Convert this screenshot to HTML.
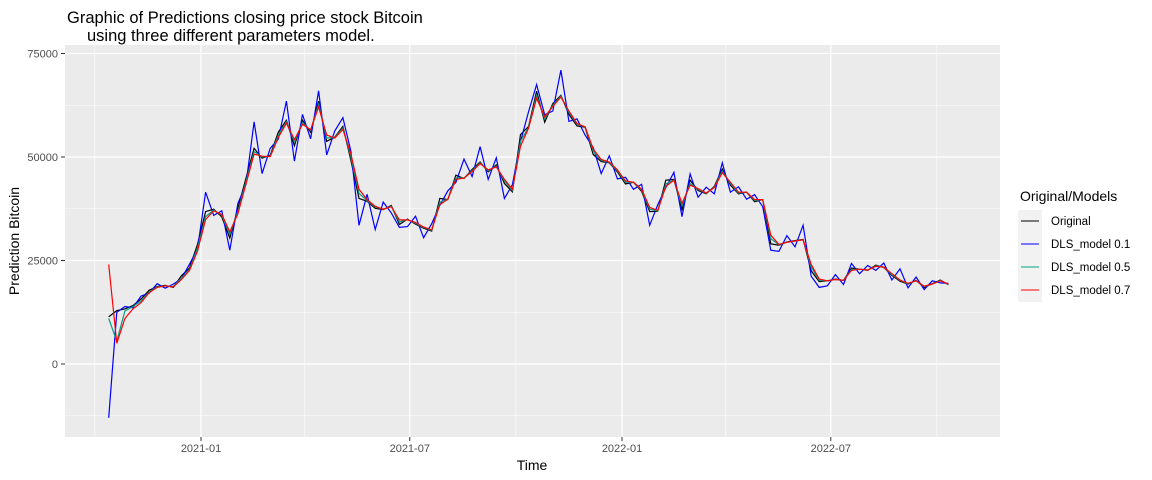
<!DOCTYPE html>
<html><head><meta charset="utf-8"><style>
body{margin:0;background:#fff;font-family:"Liberation Sans",Arial,sans-serif}
svg{display:block}
</style></head><body>
<svg id="chart" width="1152" height="480">
<text x="67" y="23" font-size="16.5" fill="#000">Graphic of Predictions closing price stock Bitcoin</text>
<text x="87" y="41" font-size="16.5" fill="#000">using three different parameters model.</text>
<rect x="65" y="45" width="935" height="392" fill="#ebebeb"/>
<g id="grid"></g>
<g id="series"></g>
<g id="axes"></g>
<text x="532" y="470" font-size="14" text-anchor="middle">Time</text>
<text transform="translate(19,241) rotate(-90)" font-size="14" text-anchor="middle">Prediction Bitcoin</text>
<g>
<text x="1020" y="201" font-size="14">Original/Models</text>
<rect x="1018" y="210" width="24" height="92" fill="#f2f2f2"/>
<line x1="1021" x2="1039" y1="221" y2="221" stroke="#000"/>
<line x1="1021" x2="1039" y1="244" y2="244" stroke="#0000ff"/>
<line x1="1021" x2="1039" y1="267" y2="267" stroke="#00a087"/>
<line x1="1021" x2="1039" y1="290" y2="290" stroke="#ff0000"/>
<text x="1051" y="225" font-size="11.5" fill="#000">Original</text>
<text x="1051" y="248" font-size="11.5" fill="#000">DLS_model 0.1</text>
<text x="1051" y="271" font-size="11.5" fill="#000">DLS_model 0.5</text>
<text x="1051" y="294" font-size="11.5" fill="#000">DLS_model 0.7</text>
</g>
</svg>
<script>
// days relative to 2021-01-01, weekly from 2020-10-13
const startDay = -80;
const stepDays = 7;
const original = [11400,12900,13300,14100,15700,17800,18700,19000,18500,21300,23200,28900,36800,37400,35500,30400,37600,44900,52100,49700,50400,56000,58900,52700,58900,56000,63500,53800,54800,57400,49200,40000,39300,37600,37300,38300,33700,35000,33800,32800,32100,40000,39700,45600,44800,47000,48800,46400,48100,43600,41600,55400,57400,65900,58400,62900,64900,60300,57500,57200,50600,48900,48600,46400,43500,43900,41700,36800,36900,44400,44600,37300,44400,41900,41100,42900,47100,43200,41100,41500,39200,39700,29000,28700,29500,29800,30100,22500,19900,20100,20500,20200,23200,22900,22600,23900,23300,21400,20000,19300,20200,18500,19400,20300,19150];
const dls01 = [-13000,12500,13900,13600,16400,17100,19400,18300,19300,20600,24100,27800,41500,35900,37000,27500,38800,43400,58500,46000,52100,54300,63500,49000,60300,54400,66000,50500,56300,59500,51400,33500,41000,32500,39100,36500,33000,33200,35700,30500,33900,38300,41800,43900,49500,45300,52500,44600,49800,40000,43300,53700,61000,67500,60200,61100,71000,58600,59200,55300,52300,46000,50300,44700,45100,42200,43400,33500,38500,42600,46300,35600,45900,40300,42700,41100,48600,41500,42800,39800,40900,38000,27500,27200,31000,28300,33500,21200,18500,18900,21600,19200,24300,21800,23800,22600,24400,20300,23000,18400,21000,18000,20100,19600,19500];
const dls05 = [11000,5500,12800,13900,15200,17400,18600,18900,18700,20700,22800,28000,35600,37200,35900,31300,36800,44100,51300,50000,50200,55300,58500,53600,58300,56400,62700,54600,54700,57000,50000,41200,39500,37900,37400,38100,34300,34900,34000,33000,32300,39100,39800,45000,44900,46700,48600,46700,47800,44200,41900,53800,57200,64900,59200,62500,64700,60800,57900,57300,51400,49200,48700,46700,43900,43900,42000,37400,37000,43500,44500,38200,43600,42200,41200,42700,46600,43600,41300,41500,39500,39700,30300,28800,29400,29700,30000,23400,20200,20100,20400,20200,22800,22900,22700,23700,23400,21600,20200,19400,20100,18700,19300,20200,19200];
const dls07 = [24000,5000,11000,13300,14800,17200,18500,18900,18600,20400,22600,27300,34900,37000,36100,31900,36300,43500,50700,50200,50100,54700,58200,54200,57900,56600,62100,55300,54600,56700,50700,42200,39700,38100,37400,38000,34800,34800,34200,33100,32400,38500,39800,44600,44900,46500,48400,46900,47600,44600,42200,52600,57000,64200,59700,62200,64500,61100,58100,57300,51900,49400,48800,46900,44200,43900,42200,37800,37100,42900,44400,38800,43200,42400,41300,42600,46200,43900,41500,41500,39700,39700,31100,28900,29400,29700,30000,24000,20500,20100,20400,20200,22600,22900,22700,23600,23400,21800,20300,19500,20100,18800,19300,20100,19300];
const yTickValues = [0,25000,50000,75000];
const yTickLabels = ["0","25000","50000","75000"];
const yMinorValues = [-12500,12500,37500,62500];
const xTickDays = [0,181,365,546];
const xTickLabels = ["2021-01","2021-07","2022-01","2022-07"];
const xMinorDays = [-92,90,273,455,638];

const NS = "http://www.w3.org/2000/svg";
const xs = d => 201 + d * (421/365);
const ys = v => 364 - v * (103.5/25000);
function mk(tag, attrs, parent){const e=document.createElementNS(NS,tag);for(const k in attrs)e.setAttribute(k,attrs[k]);parent.appendChild(e);return e;}
const grid=document.getElementById('grid'), ser=document.getElementById('series'), axes=document.getElementById('axes');
yMinorValues.forEach(v=>{const l=mk('line',{x1:65,x2:1000,y1:ys(v),y2:ys(v),stroke:'#fff','stroke-width':0.6},grid);

});
xMinorDays.forEach(d=>{const l=mk('line',{x1:xs(d),x2:xs(d),y1:45,y2:437,stroke:'#fff','stroke-width':0.6},grid);

});
yTickValues.forEach((v,i)=>{const y=ys(v);
const l=mk('line',{x1:65,x2:1000,y1:y,y2:y,stroke:'#fff','stroke-width':1.2},grid);


const t=mk('line',{x1:61,x2:65,y1:y,y2:y,stroke:'#333'},axes);


const tx=mk('text',{x:58,y:y+4,'font-size':11,'text-anchor':'end',fill:'#4d4d4d'},axes);tx.textContent=yTickLabels[i];

});
xTickDays.forEach((d,i)=>{const x=xs(d);
const l=mk('line',{x1:x,x2:x,y1:45,y2:437,stroke:'#fff','stroke-width':1.2},grid);


const t=mk('line',{x1:x,x2:x,y1:437,y2:441,stroke:'#333'},axes);


const tx=mk('text',{x:x,y:452,'font-size':11,'text-anchor':'middle',fill:'#4d4d4d'},axes);tx.textContent=xTickLabels[i];

});
function line(vals,color,name){const pts=vals.map((v,i)=>xs(startDay+i*stepDays).toFixed(1)+','+ys(v).toFixed(1)).join(' ');
const p=mk('polyline',{points:pts,fill:'none',stroke:color,'stroke-width':1.2},ser);

}
line(original,'#000000','series-original');
line(dls01,'#0000ff','series-dls-model-0-1');
line(dls05,'#00a087','series-dls-model-0-5');
line(dls07,'#ff0000','series-dls-model-0-7');
</script>
</body></html>
